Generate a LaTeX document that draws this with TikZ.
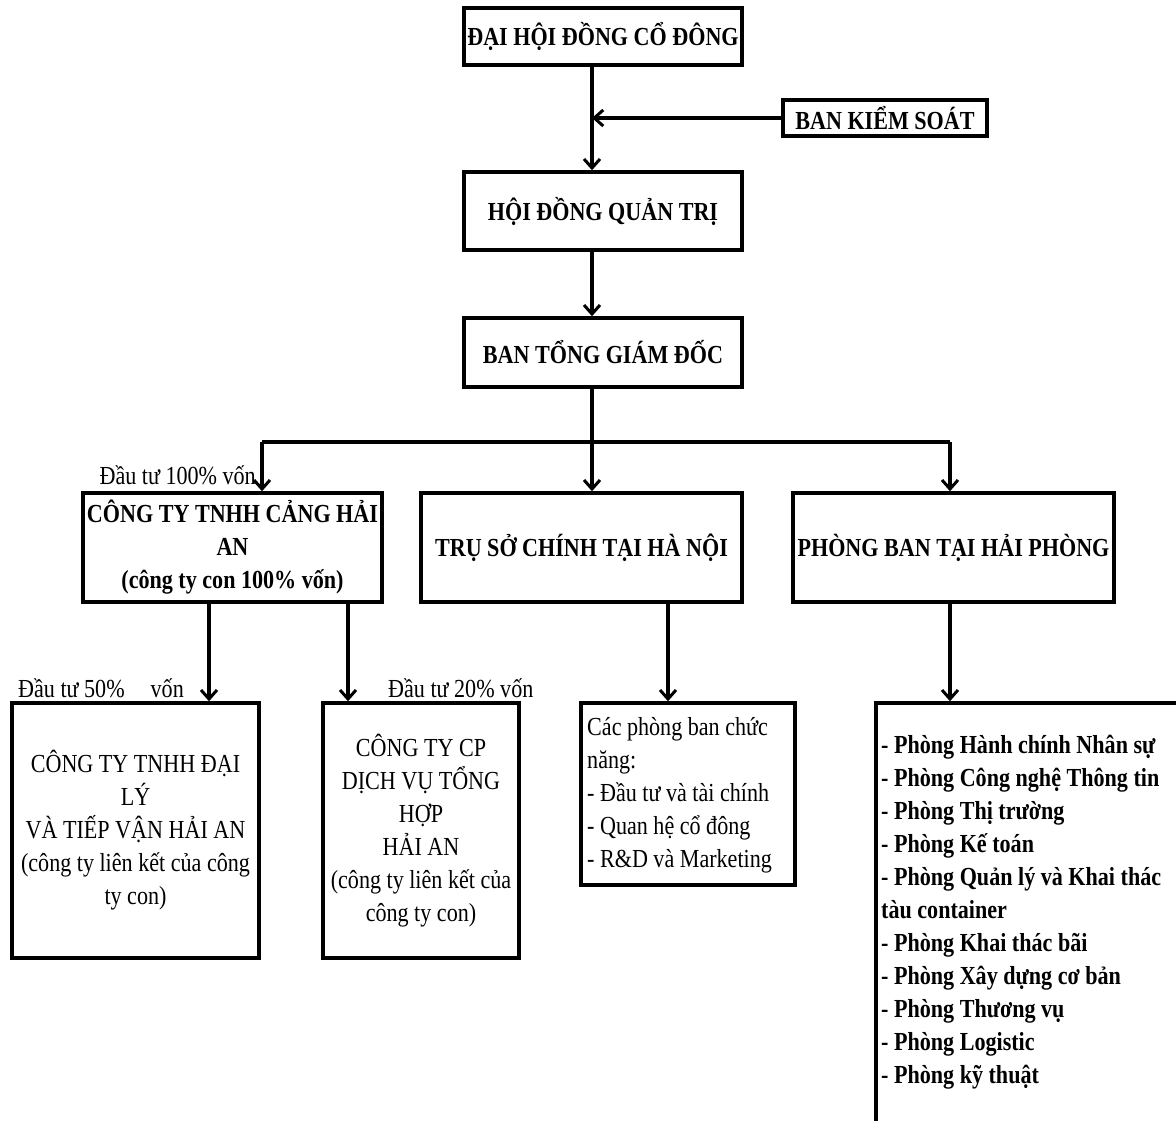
\documentclass[tikz,border=0pt]{standalone}
\usepackage{fontspec}
\setmainfont{Liberation Serif}[FakeStretch=0.85]
\usetikzlibrary{arrows.meta}
\begin{document}
\begin{tikzpicture}[x=1pt,y=-1pt,
  box/.style={draw,line width=3.5pt,rectangle,inner sep=0pt,align=center,
    font=\fontsize{26}{33}\selectfont},
  bbox/.style={box,font=\fontsize{26}{33}\selectfont\bfseries},
  txt/.style={inner sep=0pt,font=\fontsize{26}{33}\selectfont},
  ln/.style={line width=3.5pt},
  arr/.style={line width=3.5pt,-{Straight Barb[length=9pt,width=16pt,line width=3pt]}}]
\useasboundingbox (0,0) rectangle (1176,1120);
\fill[white] (0,0) rectangle (1176,1120);

% boxes
\node[bbox,minimum width=278pt,minimum height=57pt] (b1) at (603,36.5) {ĐẠI HỘI ĐỒNG CỔ ĐÔNG};
\node[bbox,minimum width=204pt,minimum height=36pt] (b2) at (885,118) {BAN KIỂM SOÁT};
\node[bbox,minimum width=278pt,minimum height=78pt] (b3) at (603,211) {HỘI ĐỒNG QUẢN TRỊ};
\node[bbox,minimum width=278pt,minimum height=69pt] (b4) at (603,352.5) {BAN TỔNG GIÁM ĐỐC};
\node[bbox,minimum width=299pt,minimum height=109pt] (b5) at (232.5,547.5) {CÔNG TY TNHH CẢNG HẢI\\AN\\(công ty con 100\% vốn)};
\node[bbox,minimum width=321pt,minimum height=109pt] (b6) at (581.5,547.5) {TRỤ SỞ CHÍNH TẠI HÀ NỘI};
\node[bbox,minimum width=321pt,minimum height=109pt] (b7) at (953.5,547.5) {PHÒNG BAN TẠI HẢI PHÒNG};
\node[box,minimum width=247pt,minimum height=255pt] (b8) at (135.5,830.5) {CÔNG TY TNHH ĐẠI\\LÝ\\VÀ TIẾP VẬN HẢI AN\\(công ty liên kết của công\\ty con)};
\node[box,minimum width=196pt,minimum height=255pt] (b9) at (421,830.5) {CÔNG TY CP\\DỊCH VỤ TỔNG\\HỢP\\HẢI AN\\(công ty liên kết của\\công ty con)};
\node[box,minimum width=214pt,minimum height=182pt] (b10) at (688,794) {};
\node[box,minimum width=306pt,minimum height=425pt] (b11) at (1029,915.5) {};

\node[txt,anchor=north west,align=left] (t10) at (587,717) {Các phòng ban chức\\năng:\\- Đầu tư và tài chính\\- Quan hệ cổ đông\\- R\&D và Marketing};
\node[txt,anchor=north west,align=left,font=\fontsize{26}{33}\selectfont\bfseries] (t11) at (881,735) {- Phòng Hành chính Nhân sự\\- Phòng Công nghệ Thông tin\\- Phòng Thị trường\\- Phòng Kế toán\\- Phòng Quản lý và Khai thác\\tàu container\\- Phòng Khai thác bãi\\- Phòng Xây dựng cơ bản\\- Phòng Thương vụ\\- Phòng Logistic\\- Phòng kỹ thuật};

% labels
\node[txt,anchor=base east] (l1) at (256,484) {Đầu tư 100\% vốn};
\node[txt,anchor=base west] (l2) at (18,697) {Đầu tư 50\%\hspace{26pt}vốn};
\node[txt,anchor=base west] (l3) at (388,697) {Đầu tư 20\% vốn};

% connectors
\coordinate (a1) at ([xshift=-11pt]b1.south);
\coordinate (a3) at ([xshift=-11pt]b3.north);
\draw[arr] (a1) -- (a3);
\draw[arr] (b2.west) -- (b2.west -| a3);
\draw[arr] ([xshift=-11pt]b3.south) -- ([xshift=-11pt]b4.north);
\coordinate (j) at ([xshift=-11pt,yshift=-53pt]b4.south);
\draw[ln] ([xshift=-11pt]b4.south) -- (j);
\coordinate (hL) at ([xshift=29.5pt]b5.north |- j);
\coordinate (hR) at ([xshift=-3.5pt]b7.north |- j);
\draw[ln] (hL) -- (hR);
\draw[arr] (hL) -- (hL |- b5.north);
\draw[arr] (j) -- (j |- b6.north);
\draw[arr] (hR) -- (hR |- b7.north);
\draw[arr] ([xshift=-23.5pt]b5.south) -- ([xshift=-23.5pt]b5.south |- b8.north);
\draw[arr] ([xshift=115.5pt]b5.south) -- ([xshift=115.5pt]b5.south |- b9.north);
\draw[arr] ([xshift=86.5pt]b6.south) -- ([xshift=86.5pt]b6.south |- b10.north);
\draw[arr] ([xshift=-3.5pt]b7.south) -- ([xshift=-3.5pt]b7.south |- b11.north);
\end{tikzpicture}
\end{document}
